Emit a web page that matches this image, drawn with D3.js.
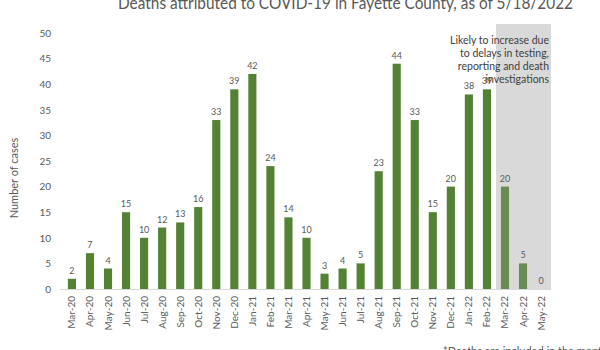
<!DOCTYPE html>
<html>
<head>
<meta charset="utf-8">
<script src="https://cdn.jsdelivr.net/npm/d3@7"></script>
<style>
  html, body { margin: 0; padding: 0; background: #fff; }
  svg { display: block; font-family: Lato, "Open Sans", sans-serif; }
</style>
</head>
<body>
<svg id="chart" width="600" height="350"></svg>
<script>
// Monthly deaths, Mar 2020 through May 2022
const months = ["Mar-20","Apr-20","May-20","Jun-20","Jul-20","Aug-20","Sep-20","Oct-20","Nov-20","Dec-20",
  "Jan-21","Feb-21","Mar-21","Apr-21","May-21","Jun-21","Jul-21","Aug-21","Sep-21","Oct-21","Nov-21","Dec-21",
  "Jan-22","Feb-22","Mar-22","Apr-22","May-22"];
const deaths = [2,7,4,15,10,12,13,16,33,39,42,24,14,10,3,4,5,23,44,33,15,20,38,39,20,5,0];
// Months still expected to rise
const pendingMonths = ["Mar-22","Apr-22","May-22"];
const yTicks = [0,5,10,15,20,25,30,35,40,45,50];
const titleText = "Deaths attributed to COVID-19 in Fayette County, as of 5/18/2022";
const noteLines = ["Likely to increase due", "to delays in testing,", "reporting and death", "investigations"];
const footnote = "*Deaths are included in the month of death";

const svg = d3.select("#chart");
const x = d3.scaleBand().domain(months).range([63, 550]).paddingInner(0.55).paddingOuter(0.27);
const y = d3.scaleLinear().domain([0, 50]).range([289, 33]);

// Shaded block behind the pending months
const x0 = x(pendingMonths[0]) - x.step() * x.paddingInner() / 2;
svg.append("rect")
  .attr("x", x0).attr("y", 24)
  .attr("width", 551 - x0).attr("height", y(0) - 24)
  .attr("fill", "#d9d9d9");

// Title
svg.append("text")
  .attr("x", 345.5).attr("y", 9)
  .attr("text-anchor", "middle")
  .attr("font-size", 17).attr("fill", "#595959")
  .attr("textLength", 455).attr("lengthAdjust", "spacingAndGlyphs")
  .text(titleText);

// Y axis tick labels
const yAxis = d3.axisLeft(y).tickValues(yTicks).tickSize(0).tickPadding(0);
const yg = svg.append("g").attr("transform", "translate(51,0)").call(yAxis);
yg.select(".domain").remove();
yg.selectAll("text").attr("font-size", 10).attr("fill", "#595959").attr("font-family", "Lato, sans-serif");

// Y axis title
svg.append("text")
  .attr("transform", "translate(18,178) rotate(-90)")
  .attr("text-anchor", "middle")
  .attr("font-size", 11).attr("fill", "#595959")
  .text("Number of cases");

// Bars
const pending = new Set(pendingMonths);
svg.append("g").selectAll("rect")
  .data(months)
  .join("rect")
  .attr("x", d => x(d))
  .attr("y", (d, i) => y(deaths[i]))
  .attr("width", x.bandwidth())
  .attr("height", (d, i) => y(0) - y(deaths[i]))
  .attr("fill", d => pending.has(d) ? "#6a8b56" : "#548235");

// Value labels
svg.append("g").selectAll("text")
  .data(months)
  .join("text")
  .attr("x", d => x(d) + x.bandwidth() / 2)
  .attr("y", (d, i) => y(deaths[i]) - 5)
  .attr("text-anchor", "middle")
  .attr("font-size", 9).attr("fill", "#595959")
  .text((d, i) => deaths[i]);

// X axis
const xAxis = d3.axisBottom(x).tickSize(0).tickPadding(0);
const xg = svg.append("g").attr("transform", `translate(0,${y(0)})`).call(xAxis);
xg.select(".domain").attr("stroke", "#d9d9d9").attr("d", "M60,0.5H551");
xg.selectAll("text")
  .attr("font-size", 10).attr("fill", "#595959").attr("font-family", "Lato, sans-serif")
  .attr("text-anchor", "end")
  .attr("dy", "0.35em")
  .attr("transform", "translate(0,7) rotate(-90)")
  .attr("x", 0).attr("y", 0);

// Note over the shaded block
svg.append("g").selectAll("text")
  .data(noteLines)
  .join("text")
  .attr("x", 549)
  .attr("y", (d, i) => 44 + i * 13)
  .attr("text-anchor", "end")
  .attr("font-size", 10.5).attr("fill", "#404040")
  .text(d => d);

// Footnote
svg.append("text")
  .attr("x", 443).attr("y", 355)
  .attr("font-size", 11).attr("fill", "#595959")
  .text(footnote);
</script>
</body>
</html>
